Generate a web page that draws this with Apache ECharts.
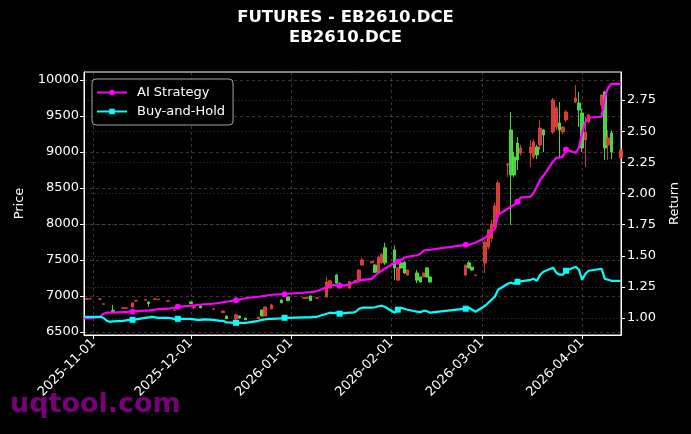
<!DOCTYPE html>
<html>
<head>
<meta charset="utf-8">
<script src="https://cdn.jsdelivr.net/npm/echarts@6/dist/echarts.min.js"></script>
<style>html,body{margin:0;padding:0;background:#000;}#c{width:691px;height:434px;}</style>
</head>
<body>
<div id="c"></div>
<script>
const titleLines = ['FUTURES - EB2610.DCE', 'EB2610.DCE'];
const seriesNames = ['AI Strategy', 'Buy-and-Hold'];
const priceTicks = [6500, 7000, 7500, 8000, 8500, 9000, 9500, 10000];
const returnTicks = [1.00, 1.25, 1.50, 1.75, 2.00, 2.25, 2.50, 2.75];
const dateTicks = ['2025-11-01', '2025-12-01', '2026-01-01', '2026-02-01', '2026-03-01', '2026-04-01'];

const candleDates = ['2025-10-30','2025-10-31','2025-11-03','2025-11-04','2025-11-07','2025-11-10','2025-11-11','2025-11-13','2025-11-14','2025-11-17','2025-11-18','2025-11-20','2025-11-21','2025-11-24','2025-11-26',
'2025-12-01','2025-12-02','2025-12-04','2025-12-08','2025-12-11','2025-12-12','2025-12-15','2025-12-16','2025-12-18','2025-12-22','2025-12-23','2025-12-24','2025-12-26','2025-12-29','2025-12-31',
'2026-01-05','2026-01-06','2026-01-07','2026-01-09','2026-01-12','2026-01-13','2026-01-15','2026-01-16','2026-01-19','2026-01-21','2026-01-22','2026-01-23','2026-01-26','2026-01-27','2026-01-28','2026-01-29','2026-01-30',
'2026-02-02','2026-02-03','2026-02-04','2026-02-05','2026-02-06','2026-02-09','2026-02-10','2026-02-11','2026-02-12','2026-02-13','2026-02-24','2026-02-25','2026-02-26','2026-02-27',
'2026-03-02','2026-03-03','2026-03-04','2026-03-05','2026-03-06','2026-03-09','2026-03-10','2026-03-11','2026-03-12','2026-03-13','2026-03-16','2026-03-17','2026-03-18','2026-03-19','2026-03-20','2026-03-23','2026-03-24','2026-03-25','2026-03-26','2026-03-27','2026-03-30','2026-03-31',
'2026-04-01','2026-04-02','2026-04-03','2026-04-07','2026-04-08','2026-04-09','2026-04-10','2026-04-13'];
const opens = [6955,6958,6955,6885,6800,6830,6830,6847,6930,6940,6917,6955,6948,6928,6802,
6917,6835,6860,6817,6768,6722,6680,6722,6694,6682,6805,6722,6820,6945,6986,
6968,6968,7000,6968,6986,7110,7290,7180,7110,7190,7220,7430,7460,7430,7330,7460,7670,
7640,7220,7460,7470,7290,7320,7264,7264,7390,7264,7290,7460,7400,7286,
7458,7681,7800,7960,8153,8820,9306,8931,9125,8986,8986,8931,9070,9097,9306,9278,9347,9403,9278,9445,9695,9681,
9542,9167,9417,9653,9834,9097,9264,8917];
const closes = [6960,6962,6960,6892,6785,6835,6836,6903,6938,6947,6895,6960,6954,6934,6808,
6895,6847,6835,6822,6790,6685,6740,6694,6670,6706,6722,6847,6875,6905,6935,
6975,6976,6935,6975,7194,7210,7180,7150,7200,7220,7360,7500,7480,7330,7540,7580,7460,
7390,7390,7390,7320,7360,7220,7194,7320,7264,7194,7430,7390,7360,7292,
7750,7917,8000,8250,8570,8833,8681,8681,8889,9056,9070,9139,8958,9333,9236,9722,9611,9306,9347,9556,9750,9583,
9056,9278,9514,9792,9056,9194,9000,9028];
const lows = [6950,6955,6950,6880,6780,6828,6826,6840,6925,6935,6850,6950,6945,6925,6800,
6890,6820,6830,6815,6764,6680,6667,6690,6665,6680,6720,6720,6818,6900,6930,
6965,6965,6930,6965,6986,7100,7170,7140,7100,7180,7215,7420,7455,7320,7320,7450,7430,
7220,7215,7380,7310,7285,7180,7190,7260,7260,7190,7285,7385,7355,7284,
7319,7650,7750,7950,8100,8653,7986,8650,8750,8950,8792,8900,8900,9028,9000,9250,9300,8931,9250,9420,9681,9347,
9000,8792,9400,9600,8889,8889,8900,8900];
const highs = [6962,6965,6962,6895,6875,6838,6840,6910,6942,6950,6920,6962,6956,6936,6810,
6920,6875,6862,6825,6795,6725,6750,6725,6697,6708,6810,6850,6890,6948,6990,
6978,6978,7010,6978,7264,7220,7300,7185,7210,7225,7370,7530,7485,7440,7560,7600,7740,
7700,7400,7480,7480,7370,7360,7270,7325,7395,7270,7435,7480,7405,7294,
7770,7930,8056,8292,8600,8845,9556,9000,9208,9100,9167,9180,9100,9445,9320,9750,9640,9695,9360,9580,9930,9834,
9600,9486,9530,9800,9850,9306,9300,9050];

const lineDates = ['2025-10-29','2025-10-30','2025-10-31',
'2025-11-03','2025-11-04','2025-11-05','2025-11-06','2025-11-07','2025-11-10','2025-11-11','2025-11-12','2025-11-13','2025-11-14','2025-11-17','2025-11-18','2025-11-19','2025-11-20','2025-11-21','2025-11-24','2025-11-25','2025-11-26','2025-11-27','2025-11-28',
'2025-12-01','2025-12-02','2025-12-03','2025-12-04','2025-12-05','2025-12-08','2025-12-09','2025-12-10','2025-12-11','2025-12-12','2025-12-15','2025-12-16','2025-12-17','2025-12-18','2025-12-19','2025-12-22','2025-12-23','2025-12-24','2025-12-25','2025-12-26','2025-12-29','2025-12-30','2025-12-31',
'2026-01-05','2026-01-06','2026-01-07','2026-01-08','2026-01-09','2026-01-12','2026-01-13','2026-01-14','2026-01-15','2026-01-16','2026-01-19','2026-01-20','2026-01-21','2026-01-22','2026-01-23','2026-01-26','2026-01-27','2026-01-28','2026-01-29','2026-01-30',
'2026-02-02','2026-02-03','2026-02-04','2026-02-05','2026-02-06','2026-02-09','2026-02-10','2026-02-11','2026-02-12','2026-02-13','2026-02-24','2026-02-25','2026-02-26','2026-02-27',
'2026-03-02','2026-03-03','2026-03-04','2026-03-05','2026-03-06','2026-03-09','2026-03-10','2026-03-11','2026-03-12','2026-03-13','2026-03-16','2026-03-17','2026-03-18','2026-03-19','2026-03-20','2026-03-23','2026-03-24','2026-03-25','2026-03-26','2026-03-27','2026-03-30','2026-03-31',
'2026-04-01','2026-04-02','2026-04-03','2026-04-07','2026-04-08','2026-04-09','2026-04-10','2026-04-13'];
const aiStrategy = [1.000,1.000,1.000,
1.010,1.035,1.043,1.043,1.043,1.047,1.047,1.051,1.051,1.055,1.059,1.059,1.063,1.067,1.071,1.075,1.079,1.083,1.091,1.091,
1.099,1.099,1.107,1.107,1.111,1.115,1.119,1.123,1.127,1.131,1.143,1.147,1.155,1.159,1.163,1.171,1.175,1.179,1.183,1.187,1.191,1.191,1.195,
1.203,1.207,1.207,1.211,1.215,1.247,1.259,1.267,1.263,1.259,1.267,1.283,1.291,1.295,1.307,1.315,1.340,1.364,1.380,1.396,
1.444,1.452,1.468,1.484,1.492,1.504,1.516,1.540,1.548,1.548,1.588,1.588,1.596,1.604,
1.644,1.669,1.693,1.717,1.829,1.877,1.893,1.909,1.933,1.966,1.974,2.006,2.054,2.110,2.142,2.255,2.287,2.287,2.295,2.351,2.327,2.367,
2.487,2.576,2.608,2.616,2.776,2.848,2.880,2.880];
const buyHold = [1.010,1.010,1.010,
1.010,1.002,0.978,0.970,0.974,0.978,0.982,0.986,0.986,0.990,1.002,1.006,1.010,1.006,1.002,1.002,0.998,0.994,0.994,0.994,
0.994,0.990,0.986,0.986,0.990,0.986,0.982,0.978,0.978,0.966,0.962,0.962,0.962,0.962,0.966,0.978,0.986,0.990,0.994,0.994,0.998,1.002,1.002,
1.006,1.006,1.006,1.010,1.010,1.035,1.043,1.039,1.043,1.035,1.043,1.043,1.051,1.075,1.083,1.083,1.087,1.095,1.099,1.091,
1.043,1.067,1.083,1.075,1.067,1.051,1.047,1.059,1.055,1.043,1.075,1.083,1.067,1.051,
1.099,1.123,1.147,1.171,1.227,1.275,1.283,1.275,1.291,1.295,1.307,1.315,1.299,1.348,1.372,1.404,1.364,1.348,1.348,1.380,1.412,1.388,
1.307,1.356,1.380,1.396,1.315,1.307,1.299,1.299];
const markerDates = ['2025-11-13','2025-11-27','2025-12-15','2025-12-30','2026-01-16','2026-02-03','2026-02-24','2026-03-12','2026-03-27'];

const ts = s => Date.UTC(+s.slice(0, 4), +s.slice(5, 7) - 1, +s.slice(8, 10));
const fmtDate = v => { const d = new Date(v); const p = n => String(n).padStart(2, '0');
  return d.getUTCFullYear() + '-' + p(d.getUTCMonth() + 1) + '-' + p(d.getUTCDate()); };
const markerSet = new Set(markerDates.map(ts));
const candleData = candleDates.map((d, i) => [ts(d), opens[i], closes[i], lows[i], highs[i]]);
const aiData = lineDates.map((d, i) => [ts(d), aiStrategy[i]]);
const bhData = lineDates.map((d, i) => [ts(d), buyHold[i]]);
const markSize = (v) => markerSet.has(v[0]) ? 6 : 0;

const FONT = 'DejaVu Sans';
const gridLine = { show: true, lineStyle: { color: 'rgba(140,140,140,0.55)', width: 0.7, type: [3, 3] } };
const chart = echarts.init(document.getElementById('c'));
chart.setOption({
  backgroundColor: '#000',
  animation: false,
  textStyle: { fontFamily: FONT },
  title: {
    text: titleLines.join('\n'), left: 'center', top: 8, padding: 0,
    textStyle: { color: '#fff', fontSize: 16.5, fontWeight: 'bold', lineHeight: 20, fontFamily: FONT }
  },
  legend: {
    orient: 'vertical', left: 92, top: 79,
    data: seriesNames,
    itemWidth: 30, itemHeight: 7, itemGap: 6,
    textStyle: { color: '#fff', fontSize: 13, fontFamily: FONT, padding: [0, 0, 0, 5] },
    backgroundColor: 'rgba(0,0,0,0.8)', borderColor: 'rgba(204,204,204,0.8)', borderWidth: 1, borderRadius: 4,
    padding: [7, 8, 7, 4]
  },
  grid: { left: 84, right: 70, top: 72, bottom: 99, show: true, borderColor: '#fff', borderWidth: 1, backgroundColor: 'transparent' },
  xAxis: {
    type: 'value', min: ts('2025-10-29'), max: ts('2026-04-13'),
    axisLine: { lineStyle: { color: '#fff' } },
    axisTick: { show: true, length: 4, lineStyle: { color: '#fff' }, customValues: dateTicks.map(ts) },
    axisLabel: { color: '#fff', fontSize: 13, rotate: 45, margin: 6, customValues: dateTicks.map(ts), formatter: fmtDate },
    splitLine: gridLine
  },
  yAxis: [{
    type: 'value', position: 'left', min: 6458, max: 10111,
    name: 'Price', nameLocation: 'middle', nameGap: 58, nameTextStyle: { color: '#fff', fontSize: 13 },
    axisLine: { show: true, lineStyle: { color: '#fff' } },
    axisTick: { show: true, length: 4, lineStyle: { color: '#fff' }, customValues: priceTicks },
    axisLabel: { color: '#fff', fontSize: 13, margin: 5, customValues: priceTicks, formatter: v => String(v) },
    splitLine: gridLine
  }, {
    type: 'value', position: 'right', min: 0.864, max: 2.975,
    name: 'Return', nameLocation: 'middle', nameGap: 47, nameTextStyle: { color: '#fff', fontSize: 13 },
    axisLine: { show: true, lineStyle: { color: '#fff' } },
    axisTick: { show: true, length: 4, lineStyle: { color: '#fff' }, customValues: returnTicks },
    axisLabel: { color: '#fff', fontSize: 13, margin: 6, customValues: returnTicks, formatter: v => v.toFixed(2) },
    splitLine: { show: true, lineStyle: { color: 'rgba(140,140,140,0.45)', width: 0.7, type: [1.5, 2] } }
  }],
  series: [{
    type: 'candlestick', name: 'Price', xAxisIndex: 0, yAxisIndex: 0,
    data: candleData, encode: { x: 0, y: [1, 2, 3, 4] }, barWidth: 3,
    itemStyle: { color: '#e8433c', color0: '#55e64a', borderColor: '#e8433c', borderColor0: '#55e64a', borderWidth: 1, opacity: 0.9 }
  }, {
    type: 'line', name: seriesNames[0], yAxisIndex: 1, data: aiData,
    symbol: 'circle', symbolSize: markSize, showSymbol: true, showAllSymbol: true,
    lineStyle: { color: '#ff00ff', width: 2.2 }, itemStyle: { color: '#ff00ff' }, z: 3
  }, {
    type: 'line', name: seriesNames[1], yAxisIndex: 1, data: bhData,
    symbol: 'rect', symbolSize: markSize, showSymbol: true, showAllSymbol: true,
    lineStyle: { color: '#00ffff', width: 2.2 }, itemStyle: { color: '#00ffff' }, z: 4
  }],
  graphic: [{
    type: 'text', left: 10, top: 391, z: 100,
    style: { text: 'uqtool.com', fontSize: 27, fontWeight: 'bold', fontFamily: FONT, fill: 'rgba(128,0,128,0.95)' }
  }]
});
</script>
</body>
</html>
